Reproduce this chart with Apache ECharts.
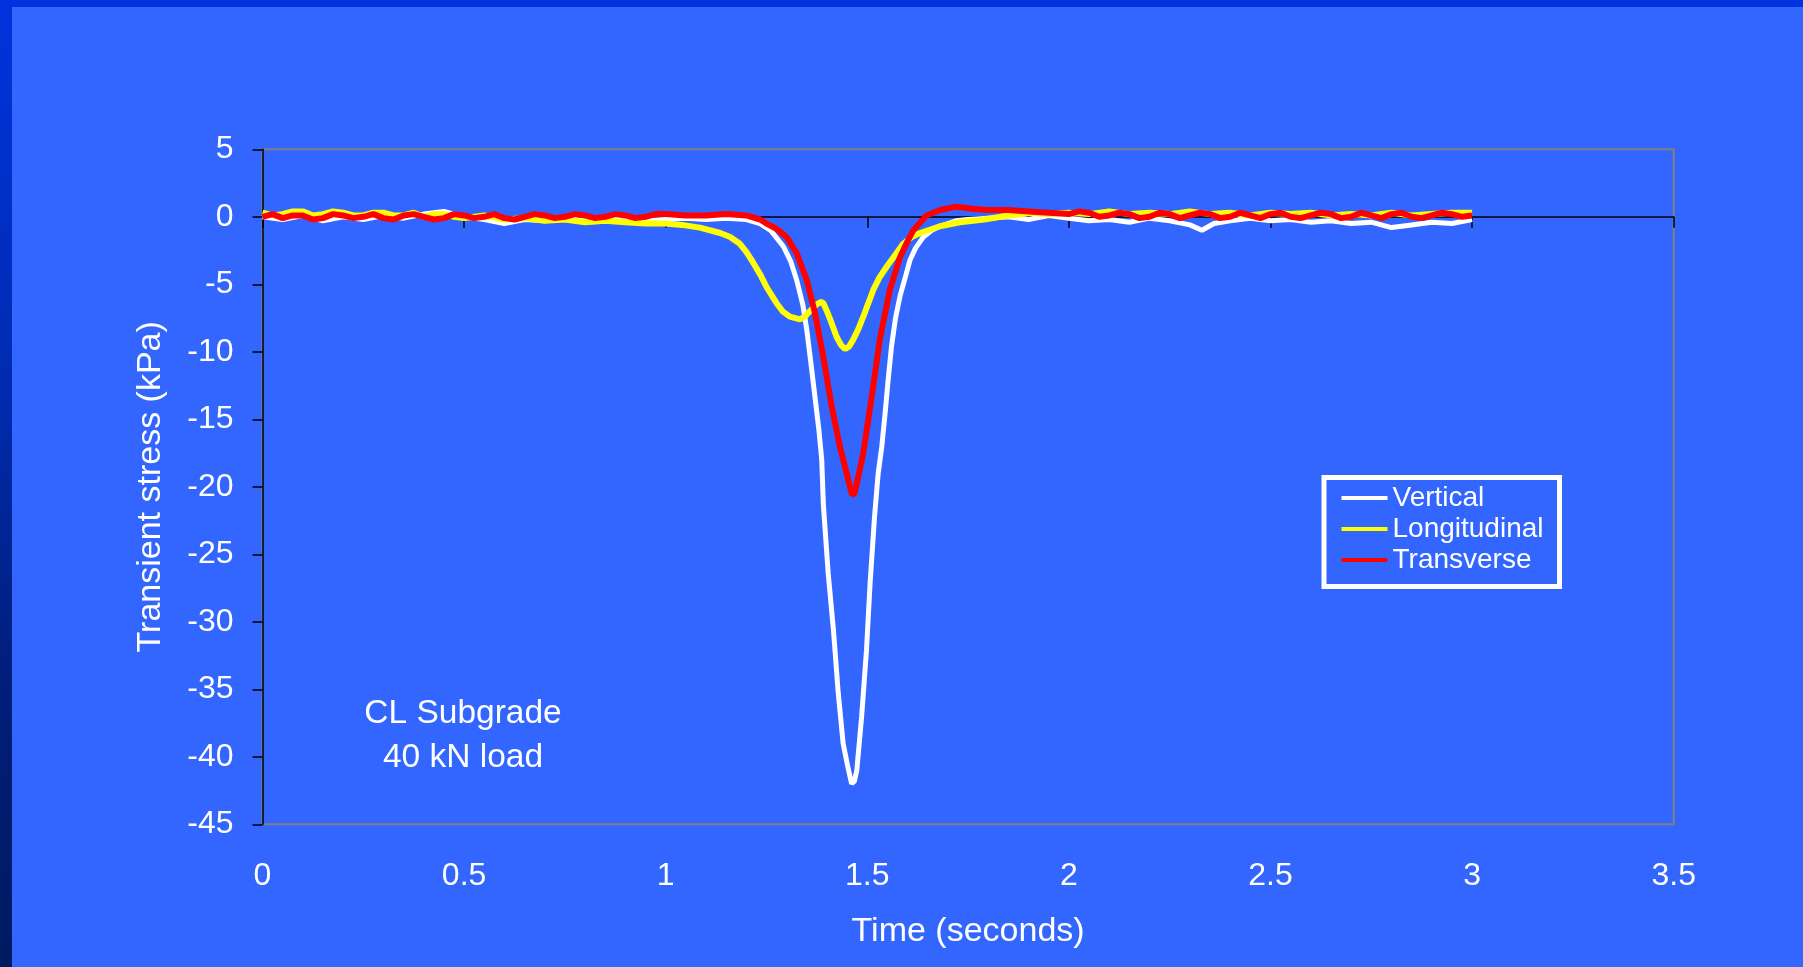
<!DOCTYPE html>
<html>
<head>
<meta charset="utf-8">
<script src="https://cdn.jsdelivr.net/npm/echarts@6/dist/echarts.min.js"></script>
<style>
html,body{margin:0;padding:0;overflow:hidden;background:#3366FF;}
#wrap{position:relative;width:1803px;height:967px;background:#3366FF;}
#topbar{position:absolute;left:0;top:0;width:1803px;height:7px;background:#0033DD;}
#leftbar{position:absolute;left:0;top:0;width:12px;height:967px;background:linear-gradient(#0033DD 0%,#002BB0 40%,#001E7A 70%,#001A60 100%);}
#chart{position:absolute;left:0;top:0;width:1803px;height:967px;}
</style>
</head>
<body>
<div id="wrap"><div id="topbar"></div><div id="leftbar"></div><div id="chart"></div></div>
<script>
// Data: [time (s), transient stress (kPa)]
const vertical = [
 [0,0],[0.05,-0.2],[0.1,0.1],[0.15,-0.3],[0.2,0],[0.25,-0.2],[0.3,0.1],[0.35,-0.1],[0.4,0.2],[0.45,0.4],
 [0.5,0],[0.55,-0.2],[0.6,-0.5],[0.65,-0.2],[0.7,-0.3],[0.75,-0.1],[0.8,-0.3],[0.85,-0.2],[0.9,-0.1],[0.95,-0.3],
 [1.0,-0.2],[1.05,-0.1],[1.1,-0.2],[1.15,-0.1],[1.2,-0.2],[1.234,-0.5],[1.26,-1.0],[1.292,-2.2],[1.31,-3.3],[1.325,-4.7],
 [1.34,-6.5],[1.35,-8.4],[1.36,-10.8],[1.37,-13.3],[1.38,-15.8],[1.387,-18.0],[1.391,-21.3],[1.403,-26.4],[1.416,-30.6],[1.428,-35.3],
 [1.44,-39],[1.45,-40.5],[1.461,-42],[1.468,-41.8],[1.474,-41],[1.486,-37],[1.498,-32.1],[1.507,-27.1],[1.518,-22.2],[1.527,-19.0],
 [1.536,-17.0],[1.544,-14.6],[1.552,-12],[1.56,-9.6],[1.57,-7.5],[1.581,-5.9],[1.595,-4.4],[1.606,-3.2],[1.62,-2.3],[1.639,-1.5],
 [1.66,-1.0],[1.68,-0.7],[1.72,-0.3],[1.75,-0.2],[1.8,-0.1],[1.85,0],[1.9,-0.2],[1.95,0.1],[2.0,-0.1],[2.05,-0.3],
 [2.1,-0.2],[2.15,-0.4],[2.2,-0.1],[2.25,-0.3],[2.3,-0.6],[2.33,-1.0],[2.36,-0.5],[2.4,-0.3],[2.45,-0.1],[2.5,-0.3],
 [2.55,-0.2],[2.6,-0.4],[2.65,-0.3],[2.7,-0.5],[2.75,-0.4],[2.8,-0.8],[2.85,-0.6],[2.9,-0.4],[2.95,-0.5],[3.0,-0.2]
];
const longitudinal = [
 [0,0.3],[0.025,0.1],[0.05,0.2],[0.075,0.4],[0.1,0.4],[0.125,0.1],[0.15,0.2],[0.175,0.4],[0.2,0.3],[0.225,0.1],[0.25,0.1],[0.275,0.3],[0.3,0.3],[0.325,0.1],[0.35,0.1],[0.375,0.3],[0.4,0],[0.425,0.2],[0.45,0.2],[0.475,0],
 [0.5,-0.1],[0.55,0.1],[0.6,-0.2],[0.65,-0.1],[0.7,-0.3],[0.75,-0.2],[0.8,-0.4],[0.85,-0.3],[0.9,-0.4],[0.95,-0.5],
 [1.0,-0.5],[1.04,-0.6],[1.085,-0.8],[1.135,-1.2],[1.16,-1.5],[1.184,-2.0],[1.2,-2.6],[1.217,-3.4],[1.235,-4.3],[1.25,-5.2],
 [1.275,-6.4],[1.29,-7.0],[1.308,-7.4],[1.333,-7.6],[1.345,-7.4],[1.357,-7.0],[1.374,-6.5],[1.385,-6.3],[1.391,-6.4],[1.40,-7.0],
 [1.408,-7.6],[1.424,-8.9],[1.435,-9.5],[1.445,-9.8],[1.455,-9.6],[1.465,-9.1],[1.478,-8.3],[1.49,-7.4],[1.5,-6.6],[1.515,-5.4],
 [1.53,-4.5],[1.548,-3.7],[1.57,-2.8],[1.589,-2.0],[1.61,-1.5],[1.631,-1.2],[1.68,-0.7],[1.73,-0.4],[1.79,-0.2],[1.85,0.1],
 [1.91,0.3],[1.95,0.2],[2.0,0.3],[2.05,0.2],[2.1,0.4],[2.15,0.2],[2.2,0.3],[2.25,0.2],[2.3,0.4],[2.35,0.2],
 [2.4,0.3],[2.45,0.1],[2.5,0.3],[2.55,0.2],[2.6,0.3],[2.65,0.1],[2.7,0.2],[2.75,0.1],[2.8,0.3],[2.85,0.1],
 [2.9,0.2],[2.95,0.3],[3.0,0.3]
];
const transverse = [
 [0,0],[0.025,0.2],[0.05,-0.1],[0.075,0.1],[0.1,0.1],[0.125,-0.2],[0.15,-0.1],[0.175,0.2],[0.2,0.1],[0.225,-0.1],[0.25,0],[0.275,0.2],[0.3,-0.1],[0.325,-0.2],[0.35,0.1],[0.375,0.2],[0.4,0],[0.425,-0.2],[0.45,-0.1],[0.475,0.2],
 [0.5,0.1],[0.525,-0.1],[0.55,0],[0.575,0.2],[0.6,-0.1],[0.625,-0.2],[0.65,0],[0.675,0.2],[0.7,0.1],[0.725,-0.1],[0.75,0],[0.775,0.2],[0.8,0.1],[0.825,-0.1],[0.85,0],[0.875,0.2],[0.9,0.1],[0.925,-0.1],[0.95,0],[0.975,0.2],
 [1.0,0.2],[1.05,0.1],[1.1,0.1],[1.15,0.2],[1.2,0.1],[1.234,-0.2],[1.25,-0.5],[1.275,-0.9],[1.3,-1.5],[1.325,-2.7],
 [1.35,-4.7],[1.37,-7.1],[1.391,-10.4],[1.412,-14.1],[1.432,-17.0],[1.453,-19.5],[1.462,-20.6],[1.468,-20.5],[1.478,-19.2],[1.49,-17.5],
 [1.511,-13.3],[1.531,-9.1],[1.556,-5.4],[1.581,-3.0],[1.6,-1.8],[1.614,-1.0],[1.647,0.1],[1.68,0.5],[1.721,0.75],[1.76,0.6],
 [1.8,0.5],[1.85,0.5],[1.9,0.4],[1.95,0.3],[2.0,0.2],[2.025,0.4],[2.05,0.3],[2.075,0],[2.1,0.1],[2.125,0.3],[2.15,0.2],[2.175,-0.1],[2.2,0],[2.225,0.3],[2.25,0.2],
 [2.275,-0.1],[2.3,0.1],[2.325,0.3],[2.35,0.2],[2.375,-0.1],[2.4,0],[2.425,0.3],[2.45,0.1],[2.475,-0.1],[2.5,0.2],[2.525,0.3],[2.55,0],[2.575,-0.1],[2.6,0.1],[2.625,0.3],[2.65,0.2],[2.675,-0.1],[2.7,0],[2.725,0.3],[2.75,0.1],
 [2.775,-0.1],[2.8,0.2],[2.825,0.3],[2.85,0],[2.875,-0.1],[2.9,0.1],[2.925,0.3],[2.95,0.2],[2.975,0],[3.0,0.1]
];
const seriesNames = ['Vertical','Longitudinal','Transverse'];
const seriesColors = ['#FFFFFF','#FFFF00','#FF0000'];
const xRange = [0, 3.5, 0.5];
const yRange = [-45, 5, 5];
const xTitle = 'Time (seconds)';
const yTitle = 'Transient stress (kPa)';
const noteLines = ['CL Subgrade','40 kN load'];

const FONT = '"Liberation Sans", Arial, sans-serif';
const chart = echarts.init(document.getElementById('chart'), null, {renderer:'canvas'});
const datasets = [vertical, longitudinal, transverse];
const widths = [5, 6, 6];

chart.setOption({
  backgroundColor: 'transparent',
  animation: false,
  textStyle: {fontFamily: FONT},
  grid: {left: 262.5, top: 149.3, right: 129.3, bottom: 142.7, show: true,
         borderColor: '#808080', borderWidth: 2, backgroundColor: 'transparent'},
  legend: {
    orient: 'vertical', left: 1324, top: 477.5,
    data: seriesNames,
    icon: 'rect', itemWidth: 46, itemHeight: 4, itemGap: 0,
    padding: [5, 16, 11, 17.5],
    borderColor: '#FFFFFF', borderWidth: 5, borderRadius: 0,
    backgroundColor: 'transparent',
    textStyle: {color: '#FFFFFF', fontSize: 28, lineHeight: 31, fontFamily: FONT},
    selectedMode: false
  },
  xAxis: [{
    type: 'value', min: xRange[0], max: xRange[1], interval: xRange[2],
    position: 'bottom',
    name: xTitle, nameLocation: 'middle', nameGap: 90,
    nameTextStyle: {color: '#FFFFFF', fontSize: 34, fontFamily: FONT},
    axisLine: {show: false, onZero: false},
    axisTick: {show: false},
    splitLine: {show: false},
    axisLabel: {color: '#FFFFFF', fontSize: 32, margin: 36, fontFamily: FONT}
  },{
    type: 'value', min: xRange[0], max: xRange[1], interval: xRange[2],
    position: 'top',
    axisLine: {show: true, onZero: true, lineStyle: {color: '#000000', width: 1.5}},
    axisTick: {show: true, inside: true, length: 11, lineStyle: {color: '#000000', width: 1.5}},
    axisLabel: {show: false},
    splitLine: {show: false}
  }],
  yAxis: {
    type: 'value', min: yRange[0], max: yRange[1], interval: yRange[2],
    name: yTitle, nameLocation: 'middle', nameGap: 95, nameRotate: 90,
    nameTextStyle: {color: '#FFFFFF', fontSize: 34, fontFamily: FONT},
    axisLine: {show: true, onZero: false, lineStyle: {color: '#000000', width: 1.5}},
    axisTick: {show: true, length: 10, lineStyle: {color: '#000000', width: 1.5}},
    splitLine: {show: false},
    axisLabel: {color: '#FFFFFF', fontSize: 32, margin: 29, fontFamily: FONT}
  },
  graphic: noteLines.map((t, i) => ({
    type: 'text', x: 463, y: 713.5 + i * 44, z: 10,
    style: {text: t, fill: '#FFFFFF', font: '33.5px ' + FONT, textAlign: 'center', textVerticalAlign: 'middle'}
  })),
  series: datasets.map((d, i) => ({
    name: seriesNames[i], type: 'line', xAxisIndex: 0, data: d,
    showSymbol: false, symbol: 'none',
    lineStyle: {color: seriesColors[i], width: widths[i]},
    itemStyle: {color: seriesColors[i]},
    z: 2 + i
  }))
});
</script>
</body>
</html>
